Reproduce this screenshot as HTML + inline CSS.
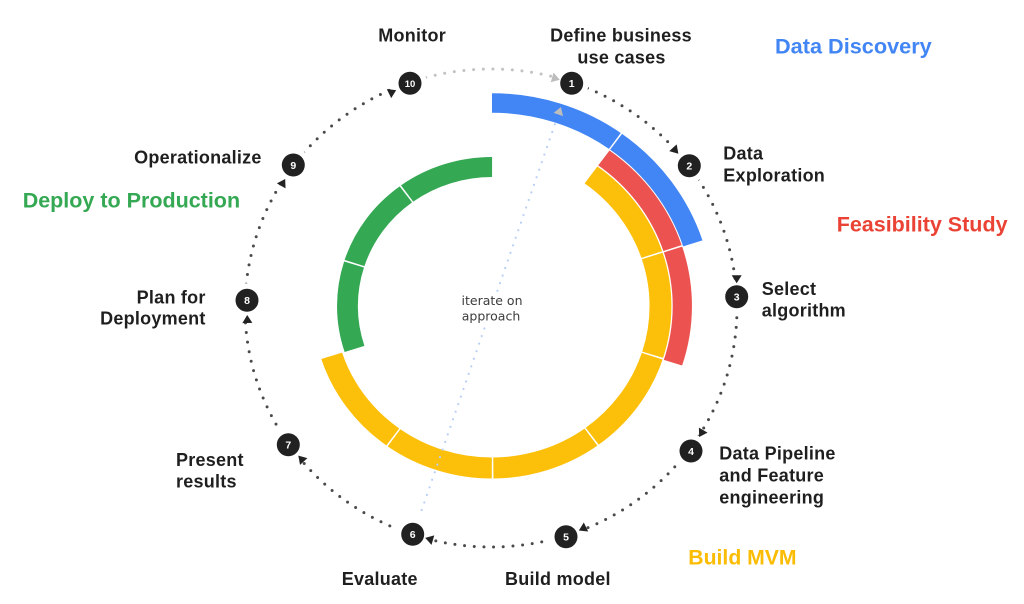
<!DOCTYPE html>
<html>
<head>
<meta charset="utf-8">
<style>
  html,body{margin:0;padding:0;background:#fff;}
  svg{display:block;}
  .lb{font-family:"Liberation Sans",Arial,sans-serif;font-weight:bold;font-size:18px;fill:#1f1f1f;letter-spacing:0.25px;}
  .hd{font-family:"Liberation Sans",Arial,sans-serif;font-weight:bold;font-size:21.5px;}
  .num{font-family:"Liberation Sans",Arial,sans-serif;font-weight:bold;font-size:10.5px;fill:#fff;}
  .it{font-family:"DejaVu Sans","Liberation Sans",sans-serif;font-size:12.5px;fill:#3c3c3c;}
</style>
</head>
<body>
<svg width="1024" height="604" viewBox="0 0 1024 604" xmlns="http://www.w3.org/2000/svg">
  <rect width="1024" height="604" fill="#fff"/>
  <defs>
    <clipPath id="notTop"><polygon points="491,308 329,-141 -200,-141 -200,800 1200,800 1200,-141 652,-141"/></clipPath>
    <clipPath id="topW"><polygon points="491,308 329,-141 652,-141"/></clipPath>
  </defs>

  <!-- outer dotted cycle -->
  <ellipse cx="491" cy="308" rx="246" ry="239" fill="none" stroke="#4a4a4a" stroke-width="3" stroke-linecap="round" stroke-dasharray="0 9.7" clip-path="url(#notTop)"/>
  <ellipse cx="491" cy="308" rx="246" ry="239" fill="none" stroke="#c2c2c2" stroke-width="3" stroke-linecap="round" stroke-dasharray="0 9.7" clip-path="url(#topW)"/>

  <!-- white masks around nodes -->
  <g fill="#fff">
    <circle cx="571.7" cy="83.3" r="17"/>
    <circle cx="689.3" cy="165.7" r="17"/>
    <circle cx="736.7" cy="296.7" r="17"/>
    <circle cx="691" cy="451" r="17"/>
    <circle cx="566" cy="536.7" r="17"/>
    <circle cx="412.7" cy="534.3" r="17"/>
    <circle cx="288.3" cy="444.7" r="17"/>
    <circle cx="247" cy="300.3" r="17"/>
    <circle cx="293.3" cy="165" r="17"/>
    <circle cx="410" cy="83.3" r="17"/>
  </g>

  <!-- rings -->
  <g transform="translate(492 306) scale(1.04 1)" fill="none">
    <circle r="203" stroke="#4285f4" stroke-width="19.5" stroke-dasharray="126.05 1.5 127.55 1020.4" transform="rotate(-90)"/>
    <circle r="183" stroke="#ec5350" stroke-width="18.5" stroke-dasharray="113.48 1.5 114.98 1000" transform="rotate(-54)"/>
    <circle r="162" stroke="#fcbf0a" stroke-width="21" stroke-dasharray="100.29 1.5 100.29 1.5 100.29 1.5 100.29 1.5 100.29 1.5 101.79 500" transform="rotate(-54)"/>
    <circle r="139" stroke="#34a853" stroke-width="20" stroke-dasharray="85.84 1.5 85.84 1.5 87.34 700" transform="rotate(162)"/>
  </g>

  <!-- iterate line -->
  <line x1="421.7" y1="510" x2="556" y2="121" stroke="#b9cff5" stroke-width="2.2" stroke-linecap="round" stroke-dasharray="0 8"/>
  <polygon points="5,0 -3,-5 -3,5" fill="#bdbdbd" transform="translate(559.3 111.7) rotate(-71)"/>
  <rect x="458" y="293" width="68" height="33" fill="#fff"/>
  <text class="it" x="492" y="305" text-anchor="middle">iterate on</text>
  <text class="it" x="491" y="320.5" text-anchor="middle">approach</text>

  <!-- arrowheads -->
  <g fill="#222">
    <polygon points="5,0 -3,-5 -3,5" fill="#bdbdbd" transform="translate(555 78.3) rotate(16.7)"/>
    <polygon points="5,0 -3,-5 -3,5" transform="translate(675 150) rotate(47.7)"/>
    <polygon points="5,0 -3,-5 -3,5" transform="translate(736.7 278.3) rotate(90)"/>
    <polygon points="5,0 -3,-5 -3,5" transform="translate(701.7 432.7) rotate(120.3)"/>
    <polygon points="5,0 -3,-5 -3,5" transform="translate(583.3 528.3) rotate(154)"/>
    <polygon points="5,0 -3,-5 -3,5" transform="translate(430 539.3) rotate(196)"/>
    <polygon points="5,0 -3,-5 -3,5" transform="translate(301.7 459.3) rotate(227.5)"/>
    <polygon points="5,0 -3,-5 -3,5" transform="translate(247.3 320) rotate(269)"/>
    <polygon points="5,0 -3,-5 -3,5" transform="translate(282.7 183.3) rotate(300)"/>
    <polygon points="5,0 -3,-5 -3,5" transform="translate(391.7 92.3) rotate(333.8)"/>
  </g>

  <!-- nodes -->
  <g fill="#212121">
    <circle cx="571.7" cy="83.3" r="11.5"/>
    <circle cx="689.3" cy="165.7" r="11.5"/>
    <circle cx="736.7" cy="296.7" r="11.5"/>
    <circle cx="691" cy="451" r="11.5"/>
    <circle cx="566" cy="536.7" r="11.5"/>
    <circle cx="412.7" cy="534.3" r="11.5"/>
    <circle cx="288.3" cy="444.7" r="11.5"/>
    <circle cx="247" cy="300.3" r="11.5"/>
    <circle cx="293.3" cy="165" r="11.5"/>
    <circle cx="410" cy="83.3" r="11.5"/>
  </g>
  <g class="num" text-anchor="middle">
    <text x="571.7" y="87.2">1</text>
    <text x="689.3" y="169.6">2</text>
    <text x="736.7" y="300.6">3</text>
    <text x="691" y="454.9">4</text>
    <text x="566" y="540.6">5</text>
    <text x="412.7" y="538.2">6</text>
    <text x="288.3" y="448.6">7</text>
    <text x="247" y="304.2">8</text>
    <text x="293.3" y="168.9">9</text>
    <text x="410" y="87" style="font-size:9.5px">10</text>
  </g>

  <!-- labels -->
  <text class="lb" x="378.3" y="41.7">Monitor</text>
  <text class="lb" x="621" y="41.7" text-anchor="middle">Define business</text>
  <text class="lb" x="621.5" y="63.3" text-anchor="middle">use cases</text>
  <text class="hd" x="775" y="53.3" fill="#4285f4" style="font-size:21.7px">Data Discovery</text>
  <text class="lb" x="723.3" y="159.3">Data</text>
  <text class="lb" x="723.3" y="181.3">Exploration</text>
  <text class="hd" x="836.7" y="231.7" fill="#ea4335">Feasibility Study</text>
  <text class="lb" x="761.7" y="295">Select</text>
  <text class="lb" x="761.7" y="316.5">algorithm</text>
  <text class="lb" x="719.3" y="459.5">Data Pipeline</text>
  <text class="lb" x="719.3" y="481.5">and Feature</text>
  <text class="lb" x="719.3" y="503.5">engineering</text>
  <text class="hd" x="688.3" y="564.3" fill="#fbbc04" style="font-size:21.2px">Build MVM</text>
  <text class="lb" x="505" y="585">Build model</text>
  <text class="lb" x="341.7" y="585">Evaluate</text>
  <text class="lb" x="176" y="466">Present</text>
  <text class="lb" x="176" y="487.5">results</text>
  <text class="lb" x="205.7" y="303.3" text-anchor="end">Plan for</text>
  <text class="lb" x="205.7" y="324.5" text-anchor="end">Deployment</text>
  <text class="lb" x="261.7" y="163.3" text-anchor="end">Operationalize</text>
  <text class="hd" x="22.7" y="207.3" fill="#34a853">Deploy to Production</text>
</svg>
</body>
</html>
